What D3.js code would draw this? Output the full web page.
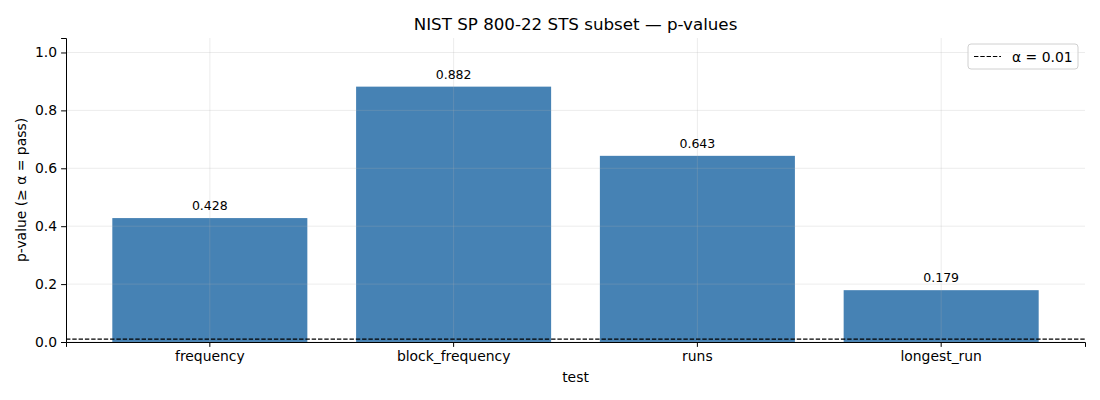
<!DOCTYPE html>
<html>
<head>
<meta charset="utf-8">
<script src="https://cdn.jsdelivr.net/npm/d3@7"></script>
<style>
  body { margin: 0; background: #fff; }
  text { font-family: "DejaVu Sans", sans-serif; fill: #000; }
</style>
</head>
<body>
<svg id="chart" width="1100" height="400"></svg>
<script>
// data
const tests = ["frequency", "block_frequency", "runs", "longest_run"];
const pValues = [0.428, 0.882, 0.643, 0.179];
const yTicks = [0.0, 0.2, 0.4, 0.6, 0.8, 1.0];
const alpha = 0.01;

const svg = d3.select("#chart");
const margin = {left: 66, right: 15, top: 38, bottom: 58};
const width = 1100 - margin.left - margin.right;
const height = 400 - margin.top - margin.bottom;

const g = svg.append("g").attr("transform", `translate(${margin.left},${margin.top})`);

const x = d3.scaleBand().domain(tests).range([0, width]).paddingInner(0.2).paddingOuter(0.19);
const y = d3.scaleLinear().domain([0, 1.05]).range([height, 0]);

// bars
g.selectAll("rect.bar")
  .data(tests)
  .enter()
  .append("rect")
  .attr("class", "bar")
  .attr("x", d => x(d))
  .attr("width", x.bandwidth())
  .attr("y", (d, i) => y(pValues[i]))
  .attr("height", (d, i) => y(0) - y(pValues[i]))
  .attr("fill", "#4682b4");

// grid, drawn over the bars like matplotlib does
const grid = g.append("g").attr("stroke", "#b0b0b0").attr("stroke-opacity", 0.3).attr("stroke-width", 0.8);
grid.selectAll("line.h").data(yTicks).enter().append("line")
  .attr("x1", 0).attr("x2", width)
  .attr("y1", d => y(d)).attr("y2", d => y(d));
grid.selectAll("line.v").data(tests).enter().append("line")
  .attr("x1", d => x(d) + x.bandwidth() / 2).attr("x2", d => x(d) + x.bandwidth() / 2)
  .attr("y1", 0).attr("y2", height);

// value labels
g.selectAll("text.val")
  .data(tests)
  .enter()
  .append("text")
  .attr("class", "val")
  .attr("x", d => x(d) + x.bandwidth() / 2)
  .attr("y", (d, i) => y(pValues[i]) - 8)
  .attr("text-anchor", "middle")
  .style("font-size", "12.5px")
  .text((d, i) => pValues[i].toFixed(3));

// alpha threshold line
g.append("line")
  .attr("x1", 0).attr("x2", width)
  .attr("y1", y(alpha)).attr("y2", y(alpha))
  .attr("stroke", "#000").attr("stroke-width", 1.2)
  .attr("stroke-dasharray", "4.4,1.9");

// axes
const xAxis = g.append("g").attr("transform", `translate(0,${height})`)
  .call(d3.axisBottom(x).tickSizeOuter(0).tickSize(4.9).tickPadding(4));
const yAxis = g.append("g")
  .call(d3.axisLeft(y).tickValues(yTicks).tickFormat(d3.format(".1f")).tickSizeOuter(0).tickSize(4.9).tickPadding(4));
[xAxis, yAxis].forEach(a => {
  a.selectAll("text").style("font-size", "13.9px").attr("font-family", "DejaVu Sans");
  a.selectAll("path, line").attr("stroke", "#000").attr("stroke-width", 1);
});

// axis labels + title
svg.append("text")
  .attr("x", margin.left + width / 2).attr("y", 382)
  .attr("text-anchor", "middle").style("font-size", "13.9px").text("test");
svg.append("text")
  .attr("transform", `translate(26,${margin.top + height / 2}) rotate(-90)`)
  .attr("text-anchor", "middle").style("font-size", "13.9px").text("p-value (≥ α = pass)");
svg.append("text")
  .attr("x", margin.left + width / 2).attr("y", 30)
  .attr("text-anchor", "middle").style("font-size", "16.7px").text("NIST SP 800-22 STS subset — p-values");

// legend
const lg = svg.append("g").attr("transform", "translate(968,44)");
lg.append("rect")
  .attr("width", 110).attr("height", 25).attr("rx", 3)
  .attr("fill", "#fff").attr("fill-opacity", 0.8)
  .attr("stroke", "#d0d0d0").attr("stroke-width", 1);
lg.append("line")
  .attr("x1", 6).attr("x2", 33).attr("y1", 12.5).attr("y2", 12.5)
  .attr("stroke", "#000").attr("stroke-width", 1.2).attr("stroke-dasharray", "4.4,1.9");
lg.append("text")
  .attr("x", 44).attr("y", 17.5).style("font-size", "13.9px").text("α = 0.01");
</script>
</body>
</html>
